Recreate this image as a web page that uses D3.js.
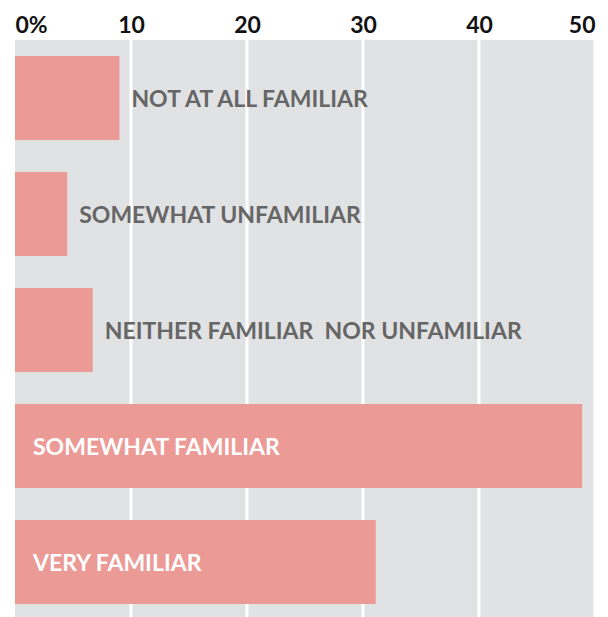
<!DOCTYPE html>
<html>
<head>
<meta charset="utf-8">
<script src="https://cdn.jsdelivr.net/npm/d3@7"></script>
<style>
  html, body { margin: 0; padding: 0; background: #ffffff; }
  svg { display: block; }
  text { font-family: Lato, "Open Sans", sans-serif; font-weight: 700; }
</style>
</head>
<body>
<svg id="chart" width="608" height="617"></svg>
<script>
// Familiarity responses, share of respondents (%)
const categories = [
  "NOT AT ALL FAMILIAR",
  "SOMEWHAT UNFAMILIAR",
  "NEITHER FAMILIAR  NOR UNFAMILIAR",
  "SOMEWHAT FAMILIAR",
  "VERY FAMILIAR"
];
const values = [9, 4.5, 6.7, 48.9, 31.1];
const tickValues = [0, 10, 20, 30, 40, 50];
const tickLabels = ["0%", "10", "20", "30", "40", "50"];
// Labels drawn inside the bar (white) instead of after it
const insideLabel = [false, false, false, true, true];

const svg = d3.select("#chart");
const margin = { top: 40, left: 15, right: 13 };
const width = 608;
const plotBottom = 620;

const x = d3.scaleLinear().domain([0, 50]).range([margin.left, width - margin.right]);
const y = d3.scaleBand()
  .domain(categories)
  .range([margin.top, plotBottom])
  .paddingInner(0.276)
  .paddingOuter(0.138);

// Plot background
svg.append("rect")
  .attr("x", x(0))
  .attr("y", margin.top)
  .attr("width", x(50) - x(0))
  .attr("height", plotBottom - margin.top)
  .attr("fill", "#e1e2e4");

// Vertical white gridlines
svg.append("g")
  .selectAll("line")
  .data(tickValues.slice(1))
  .join("line")
  .attr("x1", d => x(d))
  .attr("x2", d => x(d))
  .attr("y1", margin.top)
  .attr("y2", plotBottom)
  .attr("stroke", "#ffffff")
  .attr("stroke-width", 3);

// Top axis labels
const axis = d3.axisTop(x)
  .tickValues(tickValues)
  .tickFormat((d, i) => tickLabels[i])
  .tickSize(0)
  .tickPadding(0);

const axisG = svg.append("g")
  .attr("transform", `translate(0, ${margin.top - 7})`)
  .call(axis);
axisG.select(".domain").remove();
axisG.selectAll("text")
  .attr("font-size", 23)
  .attr("font-family", "Lato, sans-serif")
  .attr("font-weight", 700)
  .attr("fill", "#111111")
  .attr("dy", 0)
  .attr("text-anchor", (d, i) => i === 0 ? "start" : (i === tickValues.length - 1 ? "end" : "middle"));

// Bars
svg.append("g")
  .selectAll("rect")
  .data(values)
  .join("rect")
  .attr("x", x(0))
  .attr("y", (d, i) => y(categories[i]))
  .attr("width", d => x(d) - x(0))
  .attr("height", y.bandwidth())
  .attr("fill", "#ec9a96");

// Category labels
svg.append("g")
  .selectAll("text")
  .data(values)
  .join("text")
  .attr("x", (d, i) => insideLabel[i] ? x(0) + 18 : x(d) + 12)
  .attr("y", (d, i) => y(categories[i]) + y.bandwidth() / 2 + 3)
  .attr("dominant-baseline", "middle")
  .attr("font-size", 23)
  .attr("fill", (d, i) => insideLabel[i] ? "#ffffff" : "#666666")
  .attr("xml:space", "preserve")
  .style("white-space", "pre")
  .text((d, i) => categories[i]);
</script>
</body>
</html>
